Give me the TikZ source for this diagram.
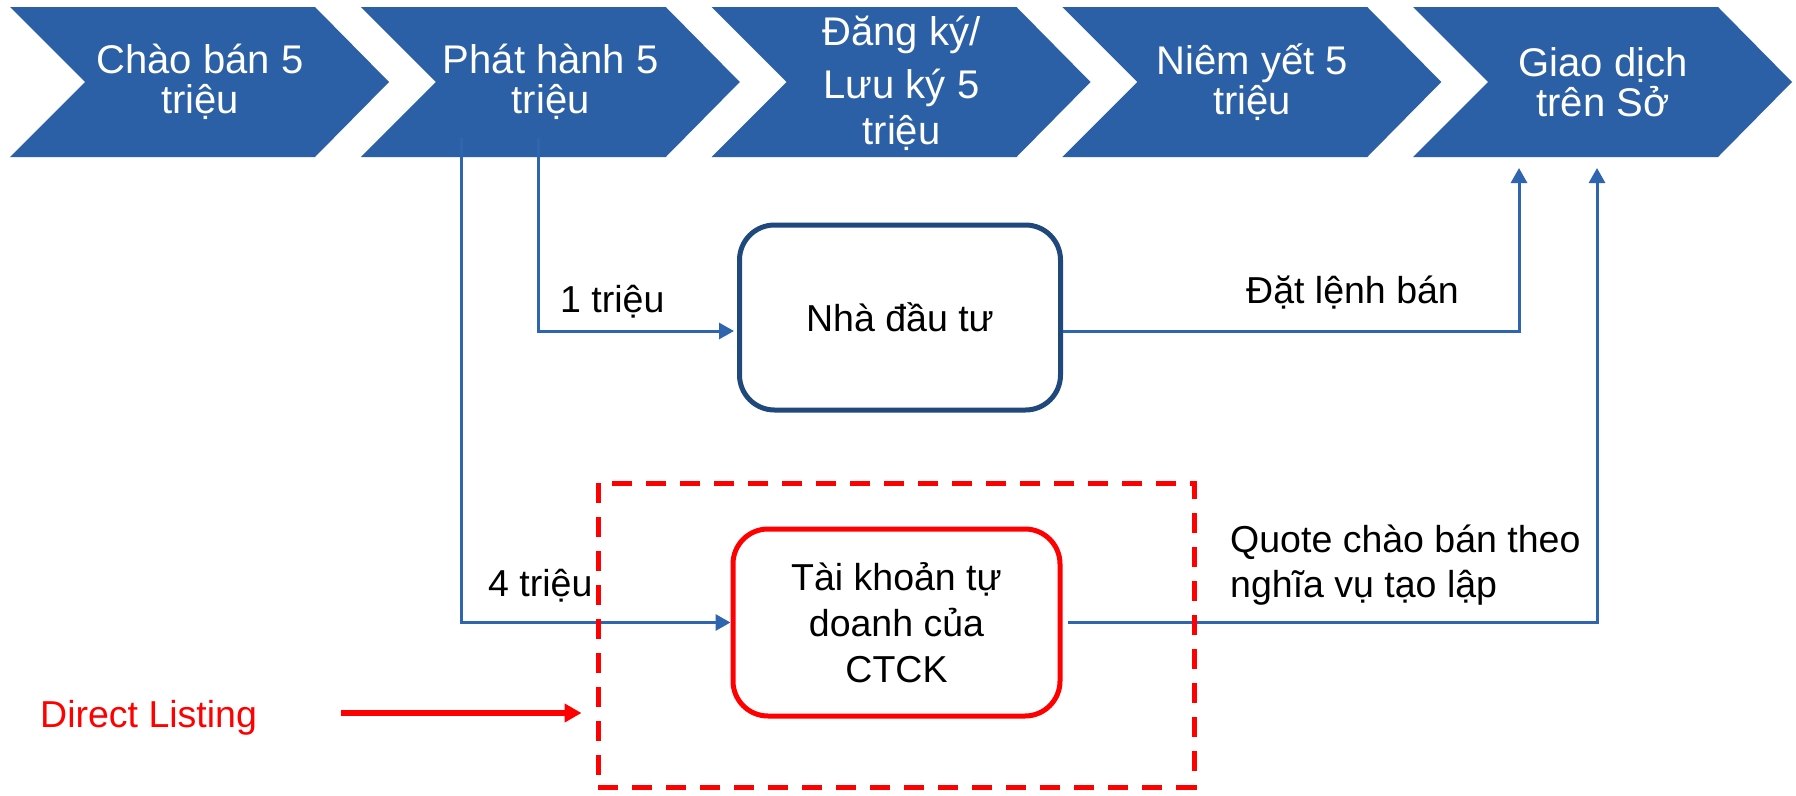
\documentclass[tikz,border=0pt]{standalone}
\usepackage{fontspec}
\setmainfont{Liberation Sans}
\usetikzlibrary{arrows.meta}
\definecolor{chevblue}{HTML}{2B5FA6}
\definecolor{linkblue}{HTML}{2F65AE}
\definecolor{navyedge}{HTML}{1F497D}
\begin{document}
\begin{tikzpicture}[x=1pt,y=-1pt,
  chevtext/.style={text=white,font=\fontsize{40}{40}\selectfont,align=center,inner sep=0pt},
  lbl/.style={font=\fontsize{37.5}{45}\selectfont,inner sep=0pt},
  link/.style={draw=linkblue,line width=3pt,-{Triangle[length=15pt,width=16pt]}},
  roundbox/.style={rounded corners=35pt,line width=5pt,fill=white,align=center,
    font=\fontsize{37.5}{46}\selectfont,inner sep=0pt},
  dashbox/.style={draw=red,line width=5pt,dash pattern=on 20pt off 14pt,inner sep=0pt}]
\useasboundingbox (0,0) rectangle (1796,795);
\fill[white] (0,0) rectangle (1796,795);

% process chevrons
\foreach \L in {10,360.75,711.5,1062.25,1413}
  \fill[chevblue] (\L,7) -- ++(305,0) -- ++(74,75) -- ++(-74,75) -- ++(-305,0) -- ++(75,-75) -- cycle;
\node[chevtext] (c1) at (200,82) {Chào bán 5\\triệu};
\node[chevtext] (c2) at (550.75,82) {Phát hành 5\\triệu};
\node[chevtext,font=\fontsize{40}{46}\selectfont] (c3) at (901.5,83) {Đăng ký/\\[7pt]Lưu ký 5\\triệu};
\node[chevtext] (c4) at (1252.25,82) {Niêm yết 5\\triệu};
\node[chevtext] (c5) at (1603,82) {Giao dịch\\trên Sở};

% free ends of the connectors
\coordinate (s1) at (538,138);
\coordinate (s4) at (461,138);
\coordinate (t1) at (1519,168);
\coordinate (t2) at (1597,168);

% holders
\node[roundbox,draw=navyedge,minimum width=321pt,minimum height=185pt] (inv) at (900,317.5) {Nhà đầu tư};
\node[roundbox,draw=red,minimum width=327pt,minimum height=187pt] (ctck) at (896.5,622.5) {Tài khoản tự\\doanh của\\CTCK};

% flows
\draw[link,shorten >=3pt] (s1) |- ([yshift=-13.5pt]inv.west);
\draw[link] ([yshift=-13.5pt]inv.east) -| (t1);
\draw[link] (s4) |- (ctck.west);
\draw[link] ([xshift=5pt]ctck.east) -| (t2);

\node[lbl,anchor=base west] (l1) at (560,312) {1 triệu};
\node[lbl,anchor=base west] (l4) at (488,596) {4 triệu};
\node[lbl,anchor=base west] (l2) at (1246,303) {Đặt lệnh bán};
\node[lbl,anchor=base west,align=left] (l3) at (1230,597) {Quote chào bán theo\\nghĩa vụ tạo lập};

% direct listing frame
\node[dashbox,minimum width=596pt,minimum height=304pt] (dl) at (896,635) {};
\node[lbl,text=red,anchor=base west] (dtext) at (40,727) {Direct Listing};
\coordinate (dstart) at (341,713);
\draw[red,line width=6pt,-{Triangle[length=17pt,width=18pt]},shorten >=14pt] (dstart) -- (dl.west |- dstart);
\end{tikzpicture}
\end{document}
